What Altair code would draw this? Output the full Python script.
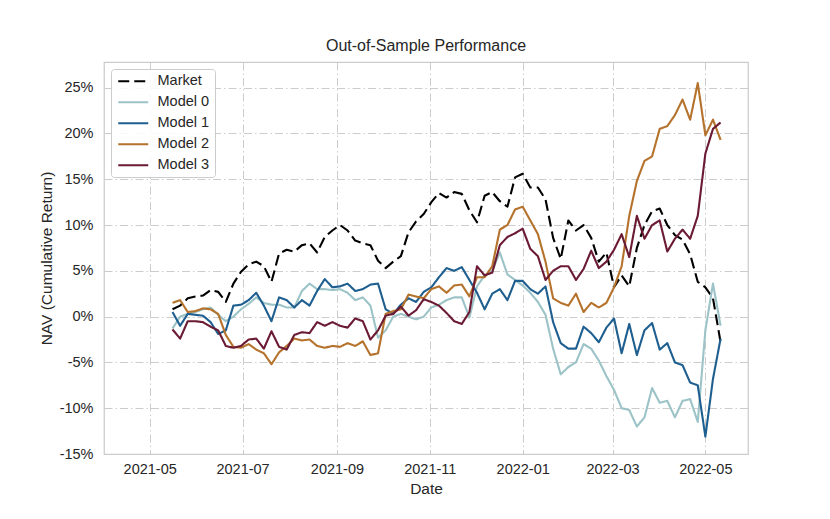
import altair as alt
import pandas as pd

series_names = ["Market", "Model 0", "Model 1", "Model 2", "Model 3"]
series_colors = ["#000000", "#9cc3c7", "#1f5f8f", "#b5722c", "#6b1a33"]

dates = pd.date_range("2021-05-16", periods=73, freq="5D")

market = [0.8, 1.2, 2.0, 2.2, 2.3, 2.9, 2.7, 1.6, 3.6, 4.9,
          5.7, 6.0, 5.5, 3.8, 6.9, 7.3, 7.1, 7.8, 8.0, 7.0,
          8.7, 9.4, 10.0, 9.4, 8.3, 8.0, 7.8, 6.1, 5.3, 6.0,
          6.6, 9.2, 10.4, 11.2, 12.5, 13.5, 13.0, 13.6, 13.4, 11.6,
          10.3, 13.2, 13.6, 12.6, 12.0, 15.2, 15.6, 14.1, 14.1, 12.8,
          8.6, 6.3, 10.5, 9.4, 10.0, 8.6, 6.0, 7.0, 3.2, 4.5,
          3.3, 7.5, 10.0, 11.5, 11.8, 10.0, 8.9, 8.4, 6.8, 3.8,
          3.2, 2.0, -2.8]
model0 = [-1.3, 0.0, 0.3, 0.5, 0.8, 1.0, 0.2, -0.5, 0.0, 0.8,
          1.4, 2.1, 1.5, 1.3, 1.3, 1.0, 1.0, 2.8, 3.6, 3.0,
          3.0, 2.9, 3.0, 2.6, 1.8, 2.1, 1.2, -2.3, -1.5, 0.0,
          0.3, 0.0, -0.3, 0.0, 1.0, 1.3, 1.8, 2.1, 2.1, -0.1,
          3.3, 4.5, 5.0, 7.0, 4.6, 4.0, 3.4, 2.6, 1.6, 0.2,
          -3.5, -6.3, -5.5, -5.0, -3.0, -3.5, -4.8, -6.5, -8.0, -10.0,
          -10.2, -12.0, -11.0, -7.8, -9.4, -9.2, -11.0, -9.2, -9.0, -11.5,
          -1.5, 3.6, -1.0]
model1 = [0.5, -1.0, 0.3, 0.2, 0.1, -0.6, -1.9, -1.5, 1.2, 1.3,
          1.8, 2.6, 1.2, -0.5, 2.1, 1.8, 1.0, 1.8, 1.2, 2.8,
          4.1, 3.2, 3.3, 3.6, 2.8, 3.0, 3.5, 3.6, 0.8, 0.3,
          1.3, 2.0, 1.6, 2.7, 3.2, 4.3, 5.3, 5.0, 5.4, 4.0,
          2.6, 0.8, 2.5, 3.0, 1.8, 3.9, 3.9, 3.0, 2.5, 3.3,
          -0.6, -2.9, -3.5, -3.5, -1.1, -1.8, -2.8, -1.2, -0.2, -4.0,
          -0.8, -4.2, -1.5, -0.7, -3.6, -2.9, -5.0, -5.3, -7.2, -7.5,
          -13.1, -6.8, -2.4]
model2 = [1.5, 1.8, 0.5, 0.6, 0.9, 0.8, 0.3, -2.0, -3.3, -3.4,
          -3.0, -3.6, -4.0, -5.2, -3.9, -3.2, -2.4, -2.6, -2.5, -3.2,
          -3.4, -3.2, -3.3, -2.9, -3.2, -2.7, -4.2, -4.0, 0.3, 0.6,
          0.8, 2.4, 2.2, 2.0, 3.0, 3.3, 2.6, 3.4, 3.5, 2.2,
          4.3, 4.3, 5.5, 9.5, 10.0, 11.7, 12.0, 10.5, 9.0, 6.0,
          2.0, 1.5, 1.2, 2.5, 0.5, 1.5, 1.0, 1.5, 3.2, 5.5,
          11.0, 14.8, 17.0, 17.5, 20.5, 20.8, 22.0, 23.7, 21.5, 25.5,
          19.8, 21.5, 19.3]
model3 = [-1.4, -2.4, -0.5, -0.5, -0.6, -1.1, -1.5, -3.2, -3.4, -3.2,
          -2.5, -2.4, -3.5, -1.6, -3.3, -3.6, -2.0, -1.7, -1.8, -0.6,
          -1.0, -0.6, -1.0, -1.2, -0.2, -0.5, -2.5, -1.5, 0.1, 0.3,
          1.1, 0.1, 0.7, 1.9, 1.6, 1.2, 0.4, -0.5, -0.8, 0.5,
          5.5, 4.5, 4.8, 7.8, 8.7, 9.1, 9.6, 7.4, 6.6, 4.0,
          5.0, 5.5, 5.5, 4.0, 5.2, 7.2, 5.3, 6.0, 7.3, 9.0,
          6.5, 11.0, 8.5, 10.0, 10.5, 7.1, 8.5, 9.5, 8.5, 11.0,
          17.8, 20.5, 21.2]

y_ticks = [-15, -10, -5, 0, 5, 10, 15, 20, 25]
x_tick_months = [(2021, 5), (2021, 7), (2021, 9), (2021, 11), (2022, 1), (2022, 3), (2022, 5)]

values = [market, model0, model1, model2, model3]
rows = []
for name, vals in zip(series_names, values):
    for d, v in zip(dates, vals):
        rows.append({"date": d.strftime("%Y-%m-%dT%H:%M:%S"), "series": name, "value": v})
df = pd.DataFrame(rows)

FONT = "Liberation Sans"
TXT = "#262626"
dash_range = [[11, 5], [1, 0], [1, 0], [1, 0], [1, 0]]

legend = alt.Legend(
    title=None, orient="none", legendX=7, legendY=7,
    padding=5, strokeColor="#cccccc", cornerRadius=3,
    fillColor="rgba(255,255,255,0.85)",
    symbolType="M-1,0H5", symbolSize=100, symbolStrokeWidth=2.2,
    symbolFillColor="transparent",
    labelFont=FONT, labelFontSize=14.5, labelColor=TXT, labelOffset=27,
    rowPadding=6, labelLimit=200,
)

chart = alt.Chart(df).mark_line(strokeWidth=2.1, strokeJoin="round", clip=True).encode(
    x=alt.X("date:T",
            scale=alt.Scale(domain=[alt.DateTime(year=2021, month=4, date=1),
                                    alt.DateTime(year=2022, month=5, date=29)]),
            axis=alt.Axis(values=[alt.DateTime(year=y, month=m, date=1) for y, m in x_tick_months],
                          format="%Y-%m", title="Date", labelPadding=8, titlePadding=6)),
    y=alt.Y("value:Q",
            scale=alt.Scale(domain=[-15, 27.8], nice=False, zero=False),
            axis=alt.Axis(values=y_ticks, labelExpr="datum.value + '%'",
                          title="NAV (Cumulative Return)", labelPadding=11, titlePadding=5)),
    color=alt.Color("series:N", scale=alt.Scale(domain=series_names, range=series_colors),
                    sort=series_names, legend=legend),
    strokeDash=alt.StrokeDash("series:N", scale=alt.Scale(domain=series_names, range=dash_range),
                              sort=series_names, legend=legend),
).properties(
    width=644, height=392,
    background="white",
    title=alt.TitleParams("Out-of-Sample Performance", font=FONT, fontSize=16,
                          fontWeight="normal", color=TXT, offset=8, anchor="middle"),
    autosize=alt.AutoSizeParams(type="none"),
    padding={"left": 96, "top": 54, "right": 74, "bottom": 57},
).configure_view(
    stroke="#cccccc", strokeWidth=1.25
).configure_axis(
    grid=True, gridColor="#cccccc", gridDash=[8, 3, 1.5, 3], gridWidth=1,
    domain=False, ticks=False,
    labelFont=FONT, labelFontSize=14.5, labelColor=TXT,
    titleFont=FONT, titleFontSize=15.5, titleFontWeight="normal", titleColor=TXT,
)

chart.save("out.html", embed_options={"renderer": "svg", "actions": False})
